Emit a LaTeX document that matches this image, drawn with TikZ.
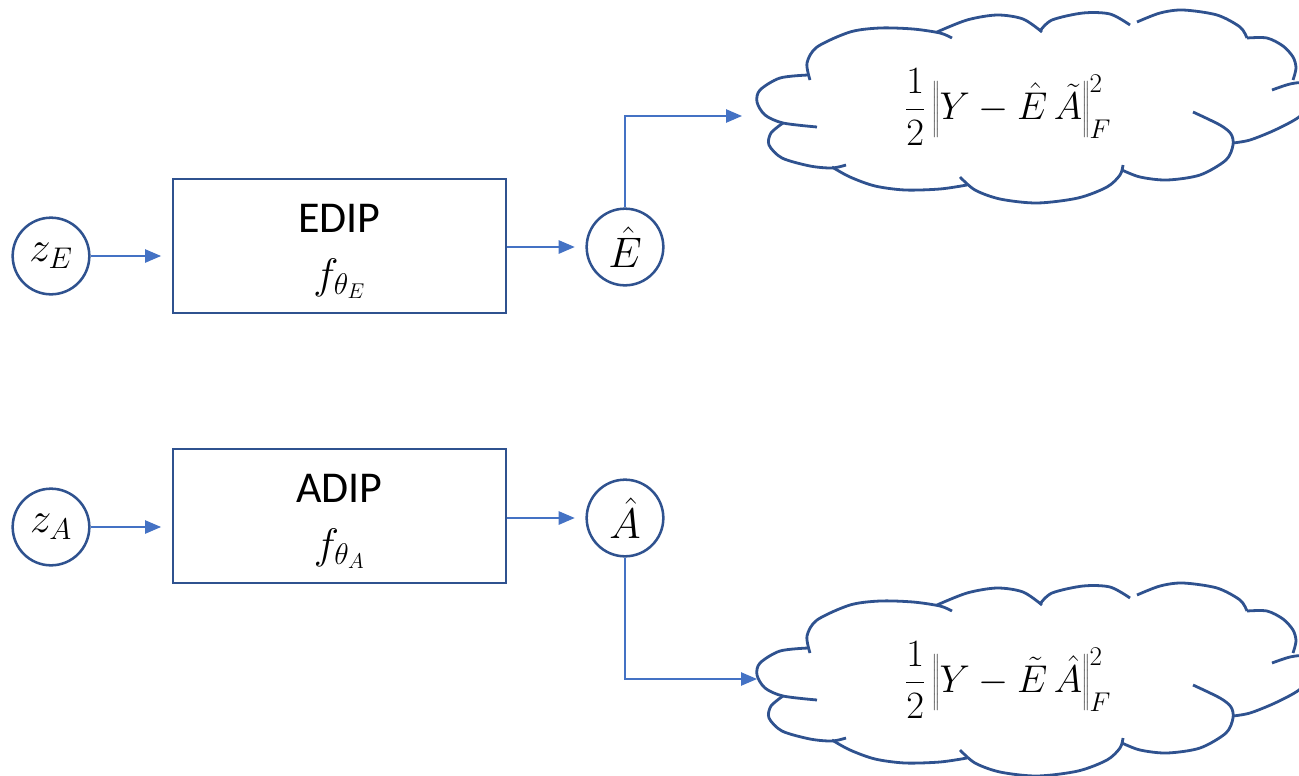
\RequirePackage{fix-cm}
\documentclass[tikz,border=0pt]{standalone}
\usepackage{fontspec}
\setmainfont{Carlito}
\usetikzlibrary{arrows.meta}
\definecolor{edge}{HTML}{2F528F}
\definecolor{flow}{HTML}{4472C4}

% Cloud outline: one smooth arc per puff, each arc running a little past
% its cusp into the inside, as in an office-style cloud callout.
\newcommand\lossoutline{%
  \draw[puff] plot[smooth] coordinates {(808,75) (780,78) (760,90) (757,102) (765,115) (783,123) (817,127)};
  \draw[puff] plot[smooth] coordinates {(783,123) (771,133) (769,145) (782,158) (810,166) (832,168) (846,165)};
  \draw[puff] plot[smooth] coordinates {(832,167) (850,177) (875,186) (905,190) (940,189) (967,185)};
  \draw[puff] plot[smooth] coordinates {(960,177) (975,190) (1000,199) (1037,203) (1078,198) (1107,187) (1120,175) (1123,165)};
  \draw[puff] plot[smooth] coordinates {(1193,112) (1220,125) (1231,134) (1233,145) (1226,160) (1200,175) (1167,180) (1140,177) (1122,170)};
  \draw[puff] plot[smooth] coordinates {(1233,143) (1250,140) (1275,130) (1299,117) (1315,100)};
  \draw[puff] plot[smooth] coordinates {(1318,92) (1305,83) (1290,84) (1272,90)};
  \draw[puff] plot[smooth] coordinates {(1247,38) (1267,38) (1283,46) (1293,57) (1296,68) (1293,80)};
  \draw[puff] plot[smooth] coordinates {(1137,22) (1160,13) (1183,10) (1217,15) (1240,27) (1247,38)};
  \draw[puff] plot[smooth] coordinates {(1040,31) (1052,20) (1083,13) (1110,14) (1130,25)};
  \draw[puff] plot[smooth] coordinates {(937,32) (967,20) (997,15) (1023,19) (1042,32)};
  \draw[puff] plot[smooth] coordinates {(810,80) (807,63) (817,47) (850,32) (880,28) (913,29) (940,33) (952,38)};
}
% tall strut for the norm bars
\newcommand\normstrut{\rule[-7pt]{0pt}{28pt}}

\begin{document}
\begin{tikzpicture}[x=0.75pt,y=-0.75pt,
  var/.style={circle,draw=edge,line width=1.9pt,minimum size=57.5pt,inner sep=0pt,
    font=\fontsize{32}{38}\selectfont},
  net/.style={rectangle,draw=edge,line width=1.9pt,minimum width=249.75pt,
    minimum height=100.5pt},
  title/.style={anchor=base,inner sep=0pt,font=\fontsize{33}{40}\selectfont},
  fname/.style={anchor=base,inner sep=0pt,font=\fontsize{32}{38}\selectfont},
  puff/.style={draw=edge,line width=2.1pt},
  formula/.style={font=\fontsize{29}{34}\selectfont,inner sep=0pt},
  link/.style={draw=flow,line width=1.1pt,-{Triangle[length=12pt,width=10pt]}}]
\useasboundingbox (0,0) rectangle (1299,775);

% loss clouds
\begin{scope}
  \clip (0,0) rectangle (1299,775);
  \lossoutline
  \begin{scope}[shift={(0,573)}]
    \lossoutline
  \end{scope}
\end{scope}
\node[formula] (ftop) at (1008,107) {$\displaystyle\frac{1}{2}\left\|\normstrut Y-\hat{E}\,\tilde{A}\right\|_F^2$};
\node[formula] (fbot) at (1008,680) {$\displaystyle\frac{1}{2}\left\|\normstrut Y-\tilde{E}\,\hat{A}\right\|_F^2$};
\coordinate (intop) at (742,116);
\coordinate (inbot) at (757,679);

% endmember branch
\node[var] (zE) at (51,256) {$z_E$};
\node[net] (edip) at (339.5,246) {};
\node[title] (edipname) at (339.5,232) {EDIP};
\node[fname] (edipf) at (339.5,288) {$f_{\theta_E}$};
\node[var] (Ehat) at (625,247) {$\hat{E}$};

% abundance branch
\node[var] (zA) at (51,527) {$z_A$};
\node[net] (adip) at (339.5,516) {};
\node[title] (adipname) at (339.5,502) {ADIP};
\node[fname] (adipf) at (339.5,558) {$f_{\theta_A}$};
\node[var] (Ahat) at (625,518) {$\hat{A}$};

\draw[link,shorten >=8pt] (zE.east) -- (zE.east -| edip.west);
\draw[link,shorten >=8pt] (Ehat.west -| edip.east) -- (Ehat.west);
\draw[link] (Ehat.north) |- (intop);
\draw[link,shorten >=8pt] (zA.east) -- (zA.east -| adip.west);
\draw[link,shorten >=8pt] (Ahat.west -| adip.east) -- (Ahat.west);
\draw[link] (Ahat.south) |- (inbot);
\end{tikzpicture}
\end{document}
